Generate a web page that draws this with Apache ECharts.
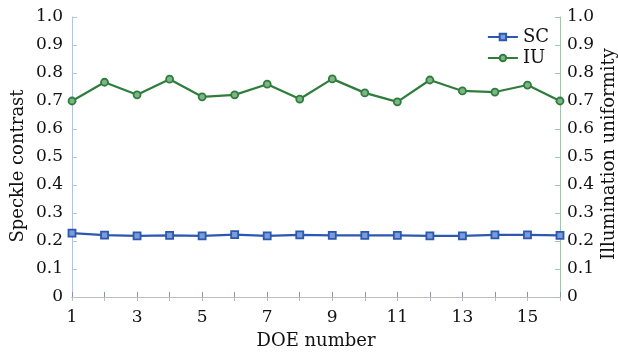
<!DOCTYPE html>
<html><head><meta charset="utf-8">
<script src="https://cdn.jsdelivr.net/npm/echarts@6/dist/echarts.min.js"></script>
<style>html,body{margin:0;padding:0;background:#fff}#c{width:618px;height:356px}</style>
</head><body><div id="c"></div>
<script>
const doeNumbers = [1,2,3,4,5,6,7,8,9,10,11,12,13,14,15,16];
const scValues = [0.228,0.221,0.218,0.220,0.218,0.223,0.218,0.222,0.220,0.220,0.220,0.218,0.218,0.222,0.222,0.220];
const iuValues = [0.700,0.767,0.722,0.778,0.715,0.722,0.760,0.707,0.779,0.729,0.697,0.775,0.736,0.732,0.757,0.700];
const xTickLabels = ['1','3','5','7','9','11','13','15'];
const font = 'DejaVu Serif';
const chart = echarts.init(document.getElementById('c'));
const yFmt = v => v === 0 ? '0' : v.toFixed(1);
const yBase = {
  type:'value', min:0, max:1, interval:0.1,
  splitLine:{show:false},
  nameLocation:'middle', nameMoveOverlap:false
};
chart.setOption({
  animation:false,
  grid:{left:72, right:58, top:17, bottom:59, containLabel:false, outerBoundsMode:'none'},
  legend:{
    right:64, top:23, orient:'vertical', itemGap:3, itemWidth:30, itemHeight:8,
    textStyle:{fontFamily:font, fontSize:18, color:'#111'},
    data:['SC','IU']
  },
  xAxis:[{
    type:'value', min:1, max:16, interval:1,
    axisLine:{lineStyle:{color:'#8a93ab'}},
    axisTick:{inside:true, length:5, lineStyle:{color:'#8a93ab'}},
    splitLine:{show:false},
    axisLabel:{fontFamily:font, fontSize:17, color:'#111', margin:12,
      formatter:v => xTickLabels.indexOf(String(v)) >= 0 ? String(v) : ''},
    name:'DOE number', nameLocation:'middle', nameGap:35,
    nameTextStyle:{fontFamily:font, fontSize:18, color:'#111'}
  },{
    type:'value', min:1, max:16, interval:1, position:'top',
    axisLine:{show:true, lineStyle:{color:'#bdbdbd'}},
    axisTick:{inside:true, length:4, lineStyle:{color:'#bdbdbd'}},
    axisLabel:{show:false}, splitLine:{show:false}
  }],
  yAxis:[
    Object.assign({}, yBase, {position:'left', name:'Speckle contrast', nameGap:54, nameRotate:90,
      axisLabel:{formatter:yFmt, fontFamily:font, fontSize:17, color:'#111', margin:9},
      nameTextStyle:{fontFamily:font, fontSize:18, color:'#111', align:'center', verticalAlign:'middle', padding:[0,18,0,0]},
      axisLine:{show:true, lineStyle:{color:'#b4c3ec'}},
      axisTick:{show:true, inside:true, length:5, lineStyle:{color:'#b4c3ec'}}}),
    Object.assign({}, yBase, {position:'right', name:'Illumination uniformity', nameGap:49, nameRotate:90,
      axisLabel:{formatter:yFmt, fontFamily:font, fontSize:17, color:'#111', margin:7},
      nameTextStyle:{fontFamily:font, fontSize:18, color:'#111', align:'center', verticalAlign:'middle', padding:[0,0,0,6]},
      axisLine:{show:true, lineStyle:{color:'#a3c4ad'}},
      axisTick:{show:true, inside:true, length:5, lineStyle:{color:'#a3c4ad'}}})
  ],
  series:[
    {name:'SC', type:'line', yAxisIndex:0, symbol:'rect', symbolSize:7,
      data:doeNumbers.map((x,i)=>[x,scValues[i]]),
      lineStyle:{color:'#2b58b0', width:2.2},
      itemStyle:{color:'#7d9bd6', borderColor:'#2b58b0', borderWidth:1.8}},
    {name:'IU', type:'line', yAxisIndex:1, symbol:'circle', symbolSize:7,
      data:doeNumbers.map((x,i)=>[x,iuValues[i]]),
      lineStyle:{color:'#2f7d3c', width:2.2},
      itemStyle:{color:'#7fb489', borderColor:'#2f7d3c', borderWidth:1.8}}
  ]
});
</script></body></html>
